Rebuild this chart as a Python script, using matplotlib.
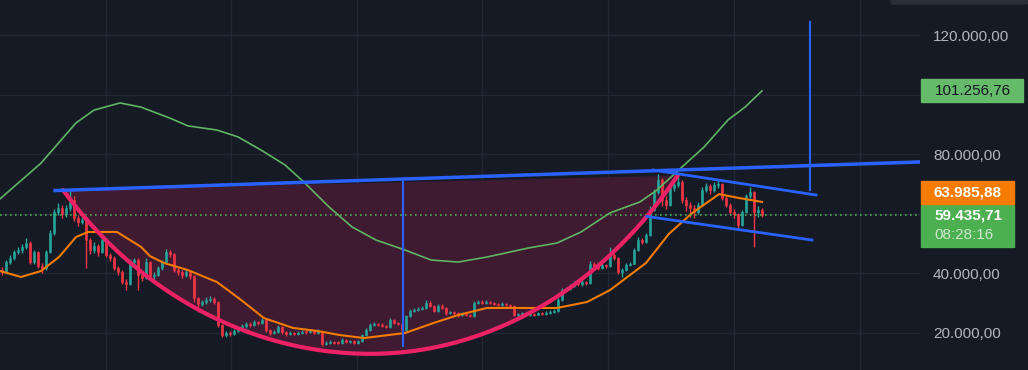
import numpy as np
import matplotlib.pyplot as plt
from matplotlib.patches import Rectangle, FancyBboxPatch
from matplotlib.transforms import blended_transform_factory

# candles (prices in thousands), one candle every ~6 days
first_open = 41.2
closes = [
    40.5, 43.8, 45.2, 47.2, 47.9, 48.9, 50.2, 43.8, 47.2, 42.5,
    41.8, 47.2, 53.6, 60.6, 61.9, 59.9, 61.9, 64.6, 58.6, 57.3,
    57.9, 51.2, 47.9, 49.2, 47.2, 51.2, 46.2, 45.2, 41.8, 40.5,
    37.1, 36.4, 43.8, 44.4, 39.5, 38.5, 43.8, 39.1, 39.6, 41.8,
    43.8, 47.2, 46.5, 41.1, 40.5, 39.5, 40.5, 39.1, 31.7, 29.7,
    30.4, 31.1, 31.4, 30.4, 22.7, 19.3, 20.0, 19.6, 20.7, 21.3,
    22.4, 23.0, 22.7, 23.7, 23.4, 24.4, 21.0, 20.0, 20.3, 22.0,
    20.3, 19.7, 20.0, 19.7, 20.0, 20.4, 20.3, 20.7, 20.0, 20.7,
    16.3, 16.6, 17.0, 16.8, 16.6, 17.7, 17.0, 17.2, 16.6, 17.3,
    19.3, 21.0, 22.7, 23.0, 22.7, 22.4, 22.0, 24.4, 23.4, 23.0,
    21.0, 25.7, 27.4, 27.7, 28.2, 28.4, 30.1, 29.1, 27.4, 29.1,
    28.4, 26.7, 27.0, 26.7, 26.0, 26.4, 26.0, 25.7, 30.1, 30.4,
    30.1, 30.4, 30.1, 29.7, 29.4, 29.8, 29.4, 29.1, 26.0, 26.3,
    26.4, 26.0, 26.4, 26.1, 26.7, 26.4, 26.7, 27.0, 27.4, 31.1,
    34.4, 34.8, 35.8, 36.8, 36.4, 37.1, 36.8, 43.2, 42.5, 41.8,
    42.8, 42.5, 46.2, 45.2, 40.5, 41.1, 42.8, 43.2, 47.9, 51.2,
    50.6, 52.9, 61.3, 67.3, 71.3, 64.6, 63.0, 68.6, 69.7, 70.7,
    64.6, 63.0, 61.9, 60.6, 63.0, 68.0, 69.3, 68.0, 69.7, 70.0,
    65.3, 63.0, 60.6, 59.9, 56.2, 60.6, 66.0, 67.3, 60.6, 61.3,
    59.436,
]
highs = [
    42.0, 44.5, 46.3, 48.0, 49.0, 49.8, 52.0, 50.8, 48.0, 47.6,
    43.5, 48.0, 54.5, 61.5, 63.5, 63.0, 63.0, 68.0, 66.0, 59.5,
    59.0, 58.5, 52.0, 50.5, 49.8, 52.2, 51.8, 47.0, 45.8, 42.5,
    41.0, 38.0, 44.8, 45.0, 45.0, 40.5, 45.2, 44.2, 40.5, 42.5,
    44.5, 48.2, 47.8, 47.0, 42.0, 41.2, 41.5, 41.0, 39.5, 32.0,
    31.2, 32.0, 32.4, 32.0, 30.8, 23.0, 20.8, 20.6, 21.4, 22.0,
    23.0, 23.8, 23.6, 24.3, 24.1, 25.0, 24.8, 21.5, 21.0, 22.8,
    22.4, 20.8, 20.6, 20.5, 20.6, 21.0, 20.9, 21.3, 21.0, 21.5,
    21.0, 17.2, 17.5, 17.4, 17.2, 18.3, 18.0, 17.6, 17.5, 17.8,
    19.8, 21.6, 23.2, 23.6, 23.4, 23.2, 22.8, 25.0, 24.8, 23.8,
    23.4, 26.2, 28.0, 28.4, 28.8, 29.0, 31.0, 30.6, 29.5, 29.8,
    29.6, 28.8, 27.5, 27.4, 27.0, 27.0, 26.8, 26.4, 30.8, 31.2,
    31.0, 31.0, 30.9, 30.5, 30.2, 30.3, 30.1, 29.8, 29.4, 26.8,
    27.0, 26.8, 27.0, 26.8, 27.2, 27.1, 27.3, 27.6, 27.9, 31.8,
    35.0, 35.6, 36.6, 37.6, 37.4, 37.8, 37.6, 44.0, 43.8, 43.0,
    43.5, 43.3, 48.9, 46.8, 45.6, 41.8, 43.5, 43.9, 48.6, 52.2,
    51.8, 53.6, 62.5, 68.3, 73.5, 72.0, 66.0, 69.6, 70.8, 72.8,
    71.2, 65.5, 63.8, 62.8, 64.0, 69.0, 70.3, 70.0, 70.8, 71.5,
    70.4, 66.0, 63.5, 61.5, 60.4, 61.3, 66.8, 69.0, 67.8, 62.5,
    62.0,
]
lows = [
    39.5, 40.0, 43.0, 44.6, 46.5, 47.0, 48.2, 43.0, 43.2, 41.8,
    40.0, 41.2, 46.8, 53.0, 59.5, 58.5, 59.0, 61.0, 57.5, 56.0,
    56.5, 41.8, 46.5, 47.0, 46.0, 46.8, 45.5, 44.0, 41.0, 39.5,
    36.5, 34.5, 36.0, 42.5, 34.5, 37.5, 38.0, 38.0, 38.2, 39.0,
    41.2, 43.2, 45.5, 40.5, 39.5, 38.5, 38.8, 38.0, 30.5, 27.0,
    29.0, 29.8, 30.5, 29.6, 22.0, 18.6, 18.8, 19.0, 19.2, 20.2,
    20.9, 21.8, 22.0, 22.3, 22.8, 23.0, 20.5, 19.4, 19.6, 20.0,
    19.8, 19.0, 19.2, 19.2, 19.3, 19.7, 19.8, 20.0, 19.6, 19.7,
    15.8, 15.9, 16.2, 16.4, 16.2, 16.4, 16.6, 16.7, 16.3, 16.4,
    17.0, 19.0, 20.8, 22.3, 22.2, 22.0, 21.6, 21.8, 23.0, 22.6,
    20.6, 20.8, 25.4, 27.0, 27.3, 27.8, 28.0, 28.6, 27.0, 27.1,
    28.0, 26.2, 26.3, 26.2, 25.5, 25.7, 25.6, 25.2, 25.5, 29.6,
    29.7, 29.8, 29.6, 29.3, 29.0, 29.1, 29.0, 28.7, 25.6, 25.8,
    25.9, 25.6, 25.7, 25.8, 25.9, 26.0, 26.1, 26.4, 26.8, 27.2,
    30.8, 34.0, 34.4, 35.4, 35.8, 35.9, 36.2, 36.5, 41.8, 41.2,
    41.4, 41.9, 42.2, 44.5, 39.8, 38.8, 40.8, 42.4, 43.0, 47.5,
    50.0, 50.2, 52.5, 60.8, 66.5, 62.5, 61.5, 62.5, 67.5, 69.0,
    63.6, 61.0, 58.8, 58.5, 60.0, 62.6, 67.2, 66.8, 67.4, 68.5,
    64.6, 62.2, 59.8, 58.6, 54.5, 55.8, 60.2, 65.2, 49.0, 59.0,
    58.8,
]

# moving averages, read as (bar index, price) points
orange_idx = [-0.5, 4.75, 9.75, 14.25, 18.5, 21.5, 28.75, 34.75, 37.0, 40.5,
              46.5, 53.75, 59.75, 65.5, 72.75, 78.75, 84.5, 90.5, 100.75, 108,
              114, 121.25, 131.5, 138.75, 146.25, 152, 161, 166.75, 172.5,
              179.25, 184.25, 190]
orange_val = [40.8, 38.8, 40.8, 45.5, 52.2, 53.9, 53.9, 48.9, 45.8, 43.5,
              41.1, 37.1, 31.1, 25.0, 21.7, 20.7, 19.3, 18.3, 20.0, 23.4,
              26.0, 28.4, 28.4, 28.4, 30.4, 34.4, 43.5, 53.3, 60.2,
              66.6, 65.3, 63.986]
green_idx = [-0.5, 9.75, 18.5, 23, 29.5, 34.75, 42, 46.5, 53.75, 59, 64.75,
             70.75, 75.75, 81.75, 87.5, 93.5, 100.75, 107.25, 114, 121.25,
             131.5, 138.75, 144.75, 152, 159.5, 163.75, 169.75, 175.5, 181.5,
             185.75, 190]
green_val = [65.0, 77.0, 90.5, 94.8, 97.2, 95.8, 92.1, 89.5, 88.1, 85.8, 81.4,
             76.4, 70.3, 62.3, 55.6, 51.2, 47.85, 44.5, 43.8, 45.5,
             48.5, 50.2, 53.9, 60.3, 64.0, 68.0, 75.4, 82.4, 91.5,
             95.8, 101.257]

price_ticks = [20, 40, 60, 80, 100, 120]
labelled_ticks = [20, 40, 80, 120]
month_grid = [26, 57.25, 88.75, 120, 151.5, 183, 214.5]

last_price = 59.43571
orange_last = 63.98588
green_last = 101.25676
countdown = "08:28:16"

# drawings, (bar index, price)
rim = [(13.25, 67.8), (229.5, 77.4)]
cup_start = (15.25, 68.0)
cup_bottom = (92.1, 13.0)
cup_end = (169.0, 73.0)
depth_line = [(100.25, 71.7), (100.25, 15.5)]
target_line = [(202.0, 68.0), (202.0, 124.2)]
handle_top = [(162.75, 74.7), (203.5, 66.3)]
handle_bottom = [(161.25, 59.1), (202.5, 51.2)]

bg = '#161a25'
up_col = '#26a69a'
down_col = '#f23645'
blue = '#2962ff'


def fmt(v):
    s = f"{v * 1000:,.2f}"
    return s.replace(',', 'X').replace('.', ',').replace('X', '.')


def cup_curve(start, bottom, end, n=300, k=0.77):
    xs = np.linspace(start[0], end[0], n)
    ys = []
    for x in xs:
        if x < bottom[0]:
            u = (bottom[0] - x) / (bottom[0] - start[0])
            top = start[1]
        else:
            u = (x - bottom[0]) / (end[0] - bottom[0])
            top = end[1]
        g = (1 - np.sqrt(1 - (u * k) ** 2)) / (1 - np.sqrt(1 - k ** 2))
        ys.append(bottom[1] + (top - bottom[1]) * g)
    return xs, np.array(ys)


fig = plt.figure(figsize=(10.28, 3.70), dpi=100)
fig.patch.set_facecolor(bg)
ax = fig.add_axes([0, 0, 920 / 1028, 1])
ax.set_facecolor(bg)
ax.set_xlim(-0.5, 229.5)
ax.set_ylim(7.58, 131.75)
for s in ax.spines.values():
    s.set_visible(False)
ax.tick_params(axis='x', bottom=False, labelbottom=False)

# grid
for p in price_ticks:
    ax.axhline(p, color='#232733', lw=1, zorder=0)
for m in month_grid:
    ax.axvline(m, color='#232733', lw=1, zorder=0)

# cup fill and arc
cx, cy = cup_curve(cup_start, cup_bottom, cup_end)
chord = np.interp(cx, [cup_start[0], cup_end[0]], [cup_start[1], cup_end[1]])
ax.fill_between(cx, cy, chord, color='#3f1b32', lw=0, zorder=1)

# candles
idx = np.arange(len(closes))
opens = [first_open] + closes[:-1]
cols = [up_col if c >= o else down_col for o, c in zip(opens, closes)]
ax.vlines(idx, lows, highs, colors=cols, lw=1.0, zorder=2)
bottoms = [min(o, c) for o, c in zip(opens, closes)]
heights = [max(abs(c - o), 0.3) for o, c in zip(opens, closes)]
ax.bar(idx, heights, bottom=bottoms, width=0.7, color=cols, edgecolor=cols,
       lw=0.4, zorder=2)

# moving averages
ax.plot(green_idx, green_val, color='#5fb564', lw=1.2, zorder=3)
ax.plot(orange_idx, orange_val, color='#f57c00', lw=1.5, zorder=3)

# current price line
ax.axhline(last_price, color='#4caf50', lw=1.2, ls=(0, (1, 2)), zorder=3)

# drawings
ax.plot(cx, cy, color='#ec2166', lw=3, zorder=4, solid_capstyle='round')
for line, w in [(rim, 2.5), (handle_top, 2), (handle_bottom, 2),
                (depth_line, 1.5), (target_line, 1.5)]:
    xs, ys = zip(*line)
    ax.plot(xs, ys, color=blue, lw=w, zorder=4)

# price scale
ax.yaxis.tick_right()
ax.set_yticks(labelled_ticks)
ax.set_yticklabels([fmt(v) for v in labelled_ticks])
ax.tick_params(axis='y', length=0, pad=9.4, labelcolor='#b2b5be',
               labelsize=11)
for lbl in ax.get_yticklabels():
    lbl.set_family('Liberation Sans')

tr = blended_transform_factory(fig.transFigure, ax.transData)
px = 1 / 1028
dy = 0.3356  # price per pixel

# green MA label
ax.add_patch(Rectangle((921 * px, green_last - 11.5 * dy), 102 * px, 23 * dy,
                       transform=tr, color='#66bb6a', clip_on=False, zorder=6))
ax.text(935 * px, green_last, fmt(green_last), transform=tr, color='#131722',
        fontsize=11, family='Liberation Sans', va='center', zorder=7)

# last price label
top_last = last_price + 10.5 * dy
ax.add_patch(Rectangle((921 * px, top_last - 42 * dy), 93 * px, 42 * dy,
                       transform=tr, color='#4caf50', clip_on=False, zorder=6))
ax.text(934 * px, last_price, fmt(last_price), transform=tr, color='white',
        fontsize=11, family='Liberation Sans', weight='bold', va='center',
        zorder=7)
ax.text(934 * px, last_price - 20 * dy, countdown, transform=tr,
        color='#e6f2e6', alpha=0.85, fontsize=11, family='Liberation Sans',
        va='center', zorder=7)

# orange MA label
ax.add_patch(Rectangle((921 * px, top_last + 0.5 * dy), 93 * px, 23 * dy,
                       transform=tr, color='#f57c00', clip_on=False, zorder=6))
ax.text(934 * px, top_last + 12 * dy, fmt(orange_last), transform=tr,
        color='white', fontsize=11, family='Liberation Sans', weight='bold',
        va='center', zorder=7)

# toolbar stub at the top right
fig.patches.append(FancyBboxPatch((891 / 1028, 1 - 4 / 370), 137 / 1028, 6 / 370,
                                  boxstyle='round,pad=0,rounding_size=0.003',
                                  transform=fig.transFigure, color='#2a2e39'))

fig.savefig('out.png', dpi=100, facecolor=bg)
